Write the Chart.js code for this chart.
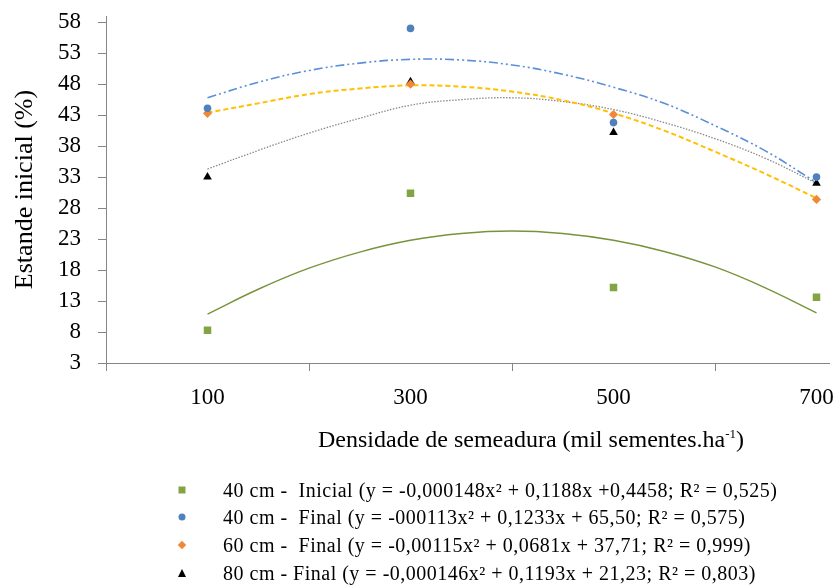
<!DOCTYPE html>
<html>
<head>
<meta charset="utf-8">
<script src="https://cdn.jsdelivr.net/npm/chart.js@4.4.1/dist/chart.umd.min.js"></script>
<style>
  body { margin: 0; background: #fff; }
  #wrap { position: relative; width: 835px; height: 585px; font-family: 'Liberation Serif', 'Times New Roman', serif; color: #000; }
  #chart { position: absolute; left: 0; top: 0; }
  #xtitle { position: absolute; left: 531px; top: 439px; transform: translate(-50%, -50%); font-size: 24px; white-space: nowrap; }
  #xtitle sup { font-size: 13px; }
  .row { position: absolute; left: 223px; height: 22px; line-height: 22px; font-size: 20px; letter-spacing: 0.5px; white-space: pre; transform: translateY(-50%); }
  .mk { position: absolute; left: 182px; transform: translate(-50%, -50%); }
</style>
</head>
<body>
<div id="wrap">
  <canvas id="chart" width="835" height="585"></canvas>
  <div id="xtitle">Densidade de semeadura (mil sementes.ha<sup>-1</sup>)</div>
  <div id="legend"></div>
</div>
<script>
// measured points
const densities = [100, 300, 500, 700];
const inicial40 = [8.3, 30.4, 15.2, 13.6];
const final40 = [44.1, 57.0, 41.8, 33.0];
const final60 = [43.3, 48.0, 43.1, 29.4];
const final80 = [33.0, 48.4, 40.2, 32.0];

// trend lines, every 50
const curveX = [100, 150, 200, 250, 300, 350, 400, 450, 500, 550, 600, 650, 700];
const fitInicial40 = [10.9, 14.9, 18.3, 20.9, 22.8, 23.9, 24.3, 23.9, 22.8, 21.0, 18.5, 15.1, 11.1];
const fitFinal40 = [45.8, 48.3, 50.2, 51.4, 52.0, 51.9, 51.1, 49.6, 47.5, 44.9, 41.3, 37.2, 32.1];
const fitFinal60 = [43.4, 44.9, 46.4, 47.3, 47.8, 47.6, 46.8, 45.4, 43.3, 40.5, 37.1, 33.5, 29.6];
const fitFinal80 = [34.3, 37.3, 40.1, 42.5, 44.6, 45.5, 45.8, 45.2, 43.9, 41.8, 39.2, 36.0, 32.0];

const xTicks = [0, 100, 200, 300, 400, 500, 600, 700];
const xTickLabels = [100, 300, 500, 700];
const yTicks = [3, 8, 13, 18, 23, 28, 33, 38, 43, 48, 53, 58];

const seriesNames = [
  '40 cm -  Inicial (y = -0,000148x² + 0,1188x +0,4458; R² = 0,525)',
  '40 cm -  Final (y = -000113x² + 0,1233x + 65,50; R² = 0,575)',
  '60 cm -  Final (y = -0,00115x² + 0,0681x + 37,71; R² = 0,999)',
  '80 cm - Final (y = -0,000146x² + 0,1193x + 21,23; R² = 0,803)'
];

const axisGray = '#868686';
const font = "'Liberation Serif', 'Times New Roman', serif";

function pts(xs, ys) {
  return xs.map((x, i) => ({ x: x, y: ys[i] }));
}

function curve(ys, color, dash, width) {
  return {
    type: 'line', data: pts(curveX, ys), borderColor: color, borderWidth: width,
    borderDash: dash, pointRadius: 0, tension: 0.4, fill: false, order: 2
  };
}

function marks(ys, color, style, radius, label) {
  return {
    type: 'scatter', label: label, data: pts(densities, ys), backgroundColor: color,
    borderColor: color, borderWidth: 0, pointStyle: style, pointRadius: radius, order: 1
  };
}

new Chart(document.getElementById('chart'), {
  data: {
    datasets: [
      curve(fitInicial40, '#77933c', [], 1.4),
      curve(fitFinal40, '#5b8fd8', [9, 3, 2, 3, 2, 3], 1.6),
      curve(fitFinal60, '#ffc000', [5, 3], 2),
      curve(fitFinal80, '#8a8a8a', [1.5, 1.5], 1.3),
      marks(inicial40, '#83a443', 'rect', 5.3, seriesNames[0]),
      marks(final40, '#4f81bd', 'circle', 3.8, seriesNames[1]),
      marks(final60, '#f0883a', 'rectRot', 4.6, seriesNames[2]),
      marks(final80, '#000000', 'triangle', 5, seriesNames[3])
    ]
  },
  options: {
    responsive: false,
    animation: false,
    layout: { padding: { top: 16, right: 0, bottom: 162, left: 0 } },
    plugins: { legend: { display: false }, tooltip: { enabled: false } },
    scales: {
      x: {
        // the original plot is cut off at the right edge, a bit past 700
        type: 'linear', min: 0, max: 713,
        afterFit: s => { s.height = 60; s.paddingLeft = 0; s.paddingRight = 0; },
        afterBuildTicks: s => { s.ticks = xTicks.map(v => ({ value: v })); },
        border: { color: axisGray, width: 1 },
        grid: {
          drawOnChartArea: false, tickLength: 8,
          tickColor: c => (c.tick && c.tick.value % 200 === 0) ? axisGray : 'rgba(0,0,0,0)'
        },
        ticks: {
          autoSkip: false, maxRotation: 0, padding: 13, color: '#000',
          font: { family: font, size: 23 },
          callback: v => xTickLabels.includes(v) ? String(v) : ''
        }
      },
      y: {
        min: 3, max: 59,
        afterFit: s => { s.width = 106; s.paddingTop = 0; s.paddingBottom = 0; },
        afterBuildTicks: s => { s.ticks = yTicks.map(v => ({ value: v })); },
        border: { color: axisGray, width: 1 },
        grid: { drawOnChartArea: false, tickLength: 8, tickColor: axisGray },
        ticks: { autoSkip: false, padding: 17, color: '#000', font: { family: font, size: 23 } },
        title: {
          display: true, text: 'Estande inicial (%)', color: '#000',
          font: { family: font, size: 26 }, padding: { top: 10, bottom: 0 }
        }
      }
    }
  }
});

// legend drawn as html rows under the chart
const rowY = [490, 517, 545, 573];
const shapes = [
  '<div style="width:7px;height:7px;background:#83a443"></div>',
  '<div style="width:7px;height:7px;border-radius:50%;background:#4f81bd"></div>',
  '<div style="width:6px;height:6px;background:#f0883a;transform:rotate(45deg)"></div>',
  '<div style="width:0;height:0;border-left:4px solid transparent;border-right:4px solid transparent;border-bottom:8px solid #000"></div>'
];
const legend = document.getElementById('legend');
seriesNames.forEach((name, i) => {
  legend.insertAdjacentHTML('beforeend',
    '<div class="mk" style="top:' + rowY[i] + 'px">' + shapes[i] + '</div>' +
    '<div class="row" style="top:' + rowY[i] + 'px"></div>');
  legend.lastElementChild.textContent = name;
});
</script>
</body>
</html>
